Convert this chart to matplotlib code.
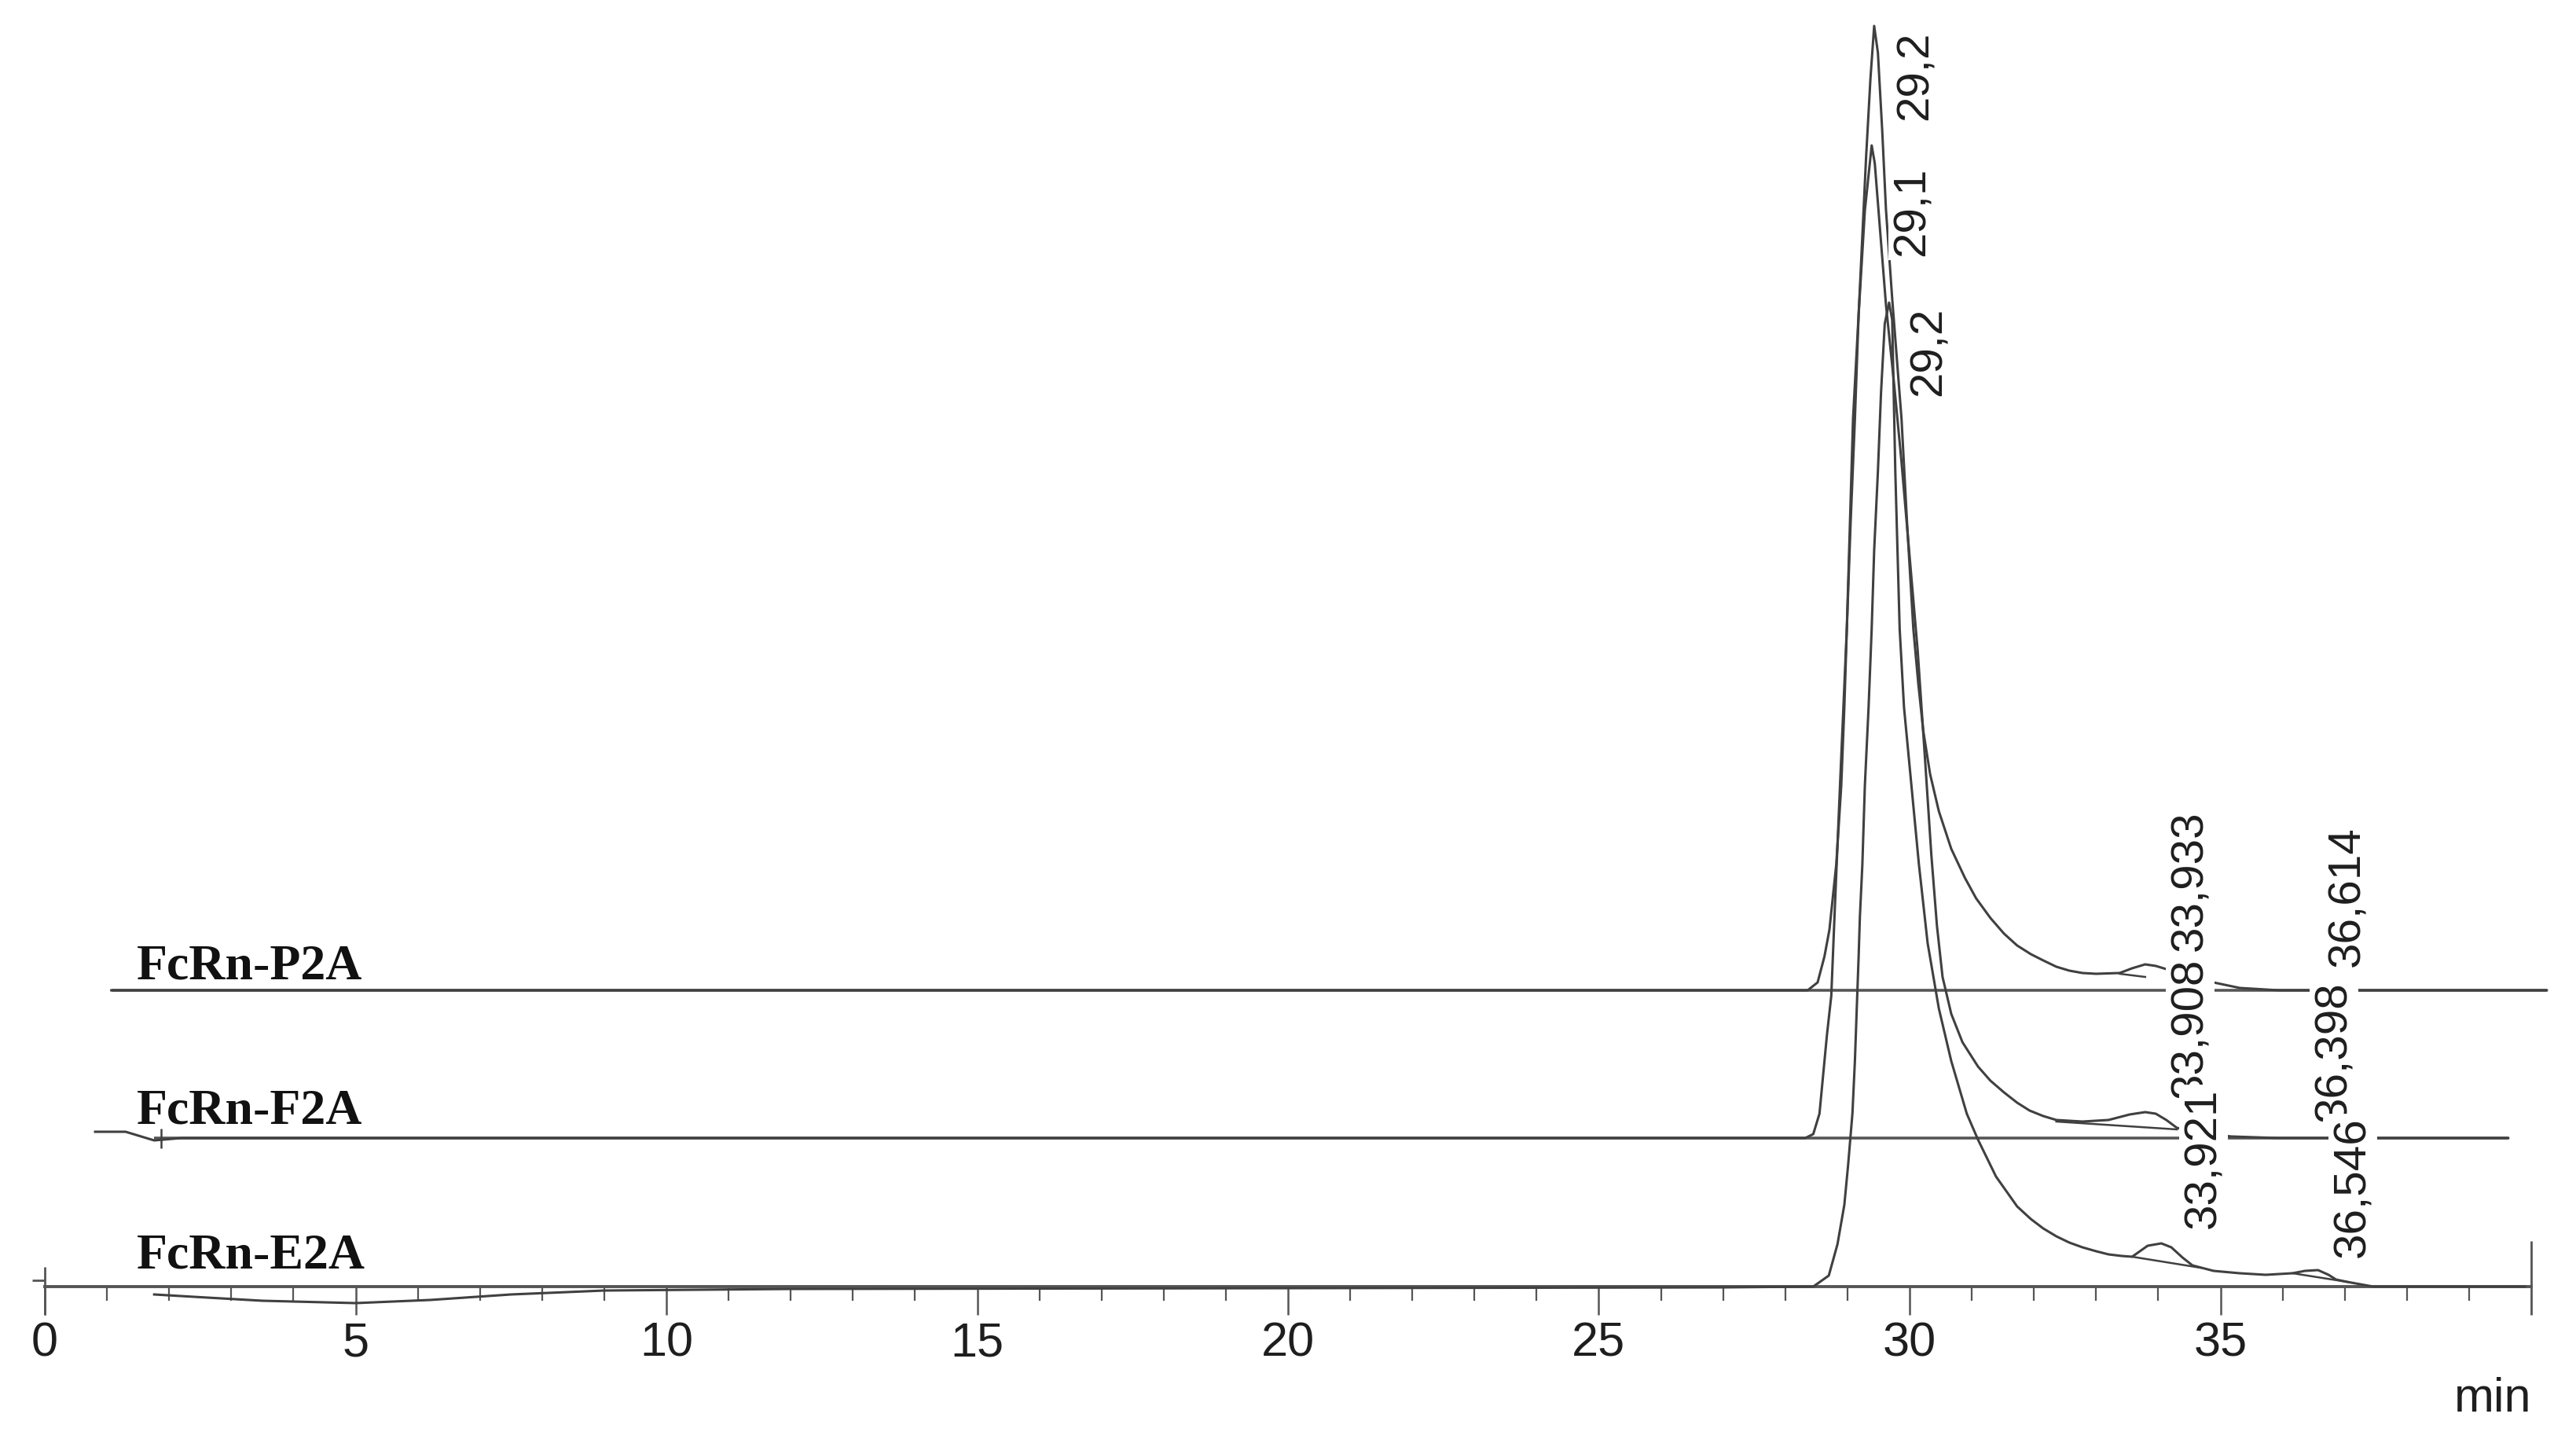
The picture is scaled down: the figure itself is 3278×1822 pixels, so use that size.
import numpy as np
import matplotlib.pyplot as plt

### values
# retention time (min) and signal above the trace's own baseline (mV)
p2a_t = [1.07, 28.10, 28.36, 28.52, 28.63, 28.71, 28.82, 28.90, 28.95, 28.99,
         29.05, 29.12, 29.18, 29.24, 29.30, 29.37, 29.43, 29.49, 29.56, 29.62,
         29.72, 29.87, 29.96, 30.06, 30.14, 30.22, 30.33, 30.47, 30.67, 30.89,
         31.07, 31.30, 31.52, 31.73, 31.95, 32.15, 32.36, 32.57, 32.78, 33.00,
         33.38, 33.58, 33.79, 33.96, 34.42, 34.89, 35.31, 35.94, 40.25]
p2a_mv = [0, 0, 0, 10, 43, 77, 160, 260, 360, 460,
          593, 727, 860, 960, 1060, 1160, 1227, 1193, 1093, 993,
          880, 727, 593, 460, 390, 330, 275, 228, 180, 143,
          117, 92, 72, 57, 46, 38, 30, 25, 22, 21,
          22, 28, 33, 31, 20, 10, 3, 0, 0]

f2a_t = [0.81, 1.30, 1.76, 2.20, 28.32, 28.45, 28.55, 28.61, 28.67, 28.74,
         28.80, 28.88, 28.99, 29.09, 29.18, 29.28, 29.39, 29.44, 29.52, 29.62,
         29.75, 29.87, 30.00, 30.13, 30.25, 30.35, 30.44, 30.53, 30.67, 30.85,
         31.10, 31.30, 31.52, 31.73, 31.93, 32.15, 32.36, 32.78, 33.20, 33.54,
         33.79, 33.96, 34.13, 34.30, 34.68, 35.18, 35.94, 39.63]
f2a_mv = [8, 8, -3, 0, 0, 5, 31, 81, 131, 181,
          298, 448, 648, 915, 1048, 1180, 1263, 1240, 1160, 1060,
          960, 860, 740, 620, 480, 360, 270, 205, 158, 122,
          91, 73, 58, 45, 35, 28, 23, 21, 23, 30,
          33, 31, 23, 13, 6, 2, 0, 0]

e2a_t = [1.76, 2.40, 3.50, 5.00, 6.20, 7.50, 9.00, 12.0, 20.0, 27.0,
         28.45, 28.70, 28.84, 28.95, 29.01, 29.08, 29.12, 29.15, 29.18, 29.20,
         29.24, 29.28, 29.34, 29.39, 29.43, 29.49, 29.54, 29.60, 29.67, 29.72,
         29.77, 29.84, 29.91, 30.03, 30.15, 30.29, 30.47, 30.67, 30.92, 31.10,
         31.39, 31.73, 31.95, 32.15, 32.36, 32.57, 32.78, 33.00, 33.20, 33.41,
         33.58, 33.83, 34.05, 34.21, 34.39, 34.55, 34.89, 35.31, 35.73, 36.16,
         36.36, 36.57, 36.74, 36.86, 37.04, 37.46, 39.90]
e2a_mv = [-10, -13, -18, -21, -17, -10, -5, -3, -2, -1,
          0, 14, 54, 104, 154, 220, 287, 354, 420, 470,
          537, 637, 737, 837, 937, 1037, 1137, 1225, 1252, 1230,
          1037, 837, 737, 637, 537, 437, 354, 287, 220, 187,
          140, 102, 86, 74, 64, 56, 50, 45, 41, 39,
          38, 52, 55, 50, 37, 27, 20, 17, 15, 17,
          20, 21, 15, 9, 6, 0, 0]

names = ['FcRn-P2A', 'FcRn-F2A', 'FcRn-E2A']
base_start = [1.07, 1.76, 1.76]
base_end = [40.25, 39.63, 39.90]
inject_t = 1.87   # marker on the F2A trace

# valley-to-valley lines drawn under the small peaks: trace, t0, mv0, t1, mv1
skim_trace = [0, 1, 2, 2]
skim_t0 = [33.38, 32.36, 33.58, 36.16]
skim_mv0 = [21, 21, 38, 17]
skim_t1 = [33.79, 34.30, 34.68, 37.04]
skim_mv1 = [17, 11, 24, 6]

# retention time labels
lbl_text = ['29,2', '29,1', '29,2', '33,933', '33,908', '33,921',
            '36,614', '36,398', '36,546']
lbl_trace = [0, 1, 2, 0, 1, 2, 0, 1, 2]

### layout
offsets = [377, 189, 0]
lbl_t = [29.75, 29.71, 29.97, 34.17, 34.17, 34.39, 36.70, 36.49, 36.79]
lbl_y = [1220, 1235, 1246, 50, 51, 74, 30, 21, 37]
lbl_va = ['top', 'top', 'top', 'bottom', 'bottom', 'bottom', 'bottom', 'bottom', 'bottom']
name_dy = [14, 18, 24]

line_c = '#404040'
txt_c = '#1e1e1e'

fig = plt.figure(figsize=(16.39, 9.11), dpi=200)
ax = fig.add_axes([0, 0, 1, 1])
ax.set_xlim(-57 / 79.1, (3278 - 57) / 79.1)
ax.set_ylim(-185, 1637)

traces = [(p2a_t, p2a_mv), (f2a_t, f2a_mv), (e2a_t, e2a_mv)]
for i, (t, mv) in enumerate(traces):
    off = offsets[i]
    ax.plot(t, np.array(mv) + off, color=line_c, lw=1.1, zorder=3)
    if off > 0:
        ax.hlines(off, base_start[i], base_end[i], color='#555555', lw=1.3, zorder=2)
    ax.text(1.48, off + name_dy[i], names[i], family='Liberation Serif',
            weight='bold', fontsize=23, color='#111111', va='baseline', ha='left')

ax.plot([inject_t], [offsets[1]], marker='|', ms=9, mew=0.9, color=line_c)

for k in range(len(skim_trace)):
    off = offsets[skim_trace[k]]
    ax.plot([skim_t0[k], skim_t1[k]], [skim_mv0[k] + off, skim_mv1[k] + off],
            color=line_c, lw=0.9, zorder=3)

for k in range(len(lbl_text)):
    off = offsets[lbl_trace[k]]
    ax.text(lbl_t[k], lbl_y[k] + off, lbl_text[k], rotation=90, ha='left',
            va=lbl_va[k], fontsize=21, family='Liberation Sans', color=txt_c,
            bbox=dict(facecolor='white', edgecolor='none', pad=1.5), zorder=5)

# time axis
for s in ['top', 'left', 'right']:
    ax.spines[s].set_visible(False)
ax.spines['bottom'].set_position(('data', 0))
ax.spines['bottom'].set_bounds(0, 40)
ax.spines['bottom'].set_color('#555555')
ax.spines['bottom'].set_linewidth(1.4)
ax.yaxis.set_visible(False)
ax.set_xticks(range(0, 40, 5))
ax.set_xticks([m for m in range(1, 40) if m % 5], minor=True)
ax.tick_params(axis='x', which='major', length=13, width=0.9, color='#555555',
               pad=3.2, labelsize=22, labelcolor=txt_c)
ax.tick_params(axis='x', which='minor', length=6.5, width=0.8, color='#555555')
for lab in ax.get_xticklabels():
    lab.set_family('Liberation Sans')
ax.vlines(0, -36, 25, color='#555555', lw=1.0)
ax.vlines(40, -36, 58, color='#555555', lw=1.0)
ax.hlines(8, -0.2, 0, color='#555555', lw=1.0)
ax.text(40.0, -143, 'min', ha='right', va='center', fontsize=22,
        family='Liberation Sans', color=txt_c)

fig.savefig('out.png', dpi=200, facecolor='white')
